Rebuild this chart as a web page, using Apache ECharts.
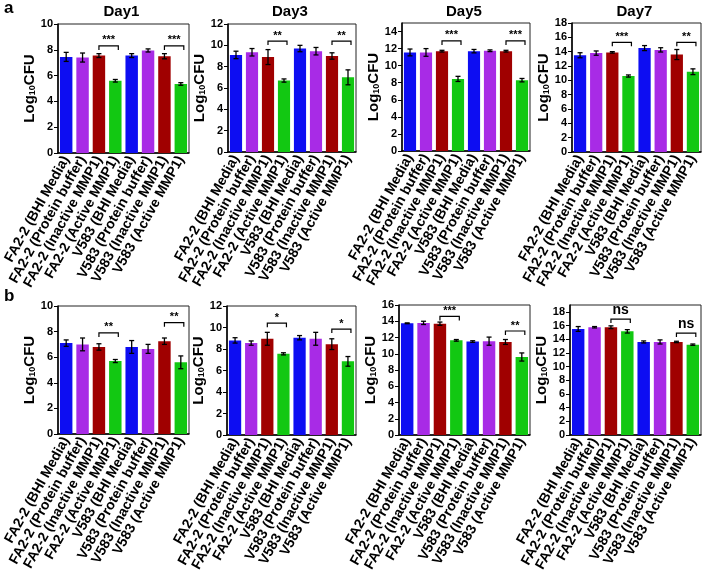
<!DOCTYPE html>
<html><head><meta charset="utf-8">
<script src="https://cdn.jsdelivr.net/npm/echarts@6/dist/echarts.min.js"></script>
<style>html,body{margin:0;padding:0;background:#fff}#c{width:705px;height:576px}</style>
</head><body><div id="c"></div>
<script>
const categories = ['FA2-2 (BHI Media)','FA2-2 (Protein buffer)','FA2-2 (Inactive MMP1)','FA2-2 (Active MMP1)','V583 (BHI Media)','V583 (Protein buffer)','V583 (Inactive MMP1)','V583 (Active MMP1)'];
const dayTitles = ['Day1','Day3','Day5','Day7'];
const rowLetters = ['a','b'];

// Row a
const a_day1_mean = [7.45, 7.4, 7.55, 5.6, 7.55, 7.95, 7.5, 5.35];
const a_day1_err  = [0.35, 0.35, 0.15, 0.1, 0.15, 0.12, 0.2, 0.1];
const a_day1_sig  = [[2, 3, 8.3, '***'], [6, 7, 8.3, '***']];
const a_day3_mean = [9.1, 9.35, 8.9, 6.7, 9.7, 9.45, 9.0, 7.0];
const a_day3_err  = [0.35, 0.35, 0.7, 0.15, 0.3, 0.35, 0.3, 0.7];
const a_day3_sig  = [[2, 3, 10.4, '**'], [6, 7, 10.4, '**']];
const a_day5_mean = [11.55, 11.55, 11.7, 8.45, 11.7, 11.75, 11.7, 8.3];
const a_day5_err  = [0.4, 0.45, 0.1, 0.3, 0.2, 0.1, 0.1, 0.2];
const a_day5_sig  = [[2, 3, 12.9, '***'], [6, 7, 12.9, '***']];
const a_day7_mean = [13.5, 13.8, 13.9, 10.6, 14.5, 14.25, 13.6, 11.2];
const a_day7_err  = [0.35, 0.3, 0.1, 0.15, 0.35, 0.3, 0.7, 0.4];
const a_day7_sig  = [[2, 3, 15.3, '***'], [6, 7, 15.3, '**']];
// Row b
const b_day1_mean = [7.1, 7.0, 6.8, 5.7, 6.8, 6.65, 7.25, 5.6];
const b_day1_err  = [0.25, 0.5, 0.25, 0.12, 0.5, 0.35, 0.25, 0.5];
const b_day1_sig  = [[2, 3, 7.9, '**'], [6, 7, 8.7, '**']];
const b_day3_mean = [8.8, 8.55, 8.95, 7.55, 9.05, 8.95, 8.45, 6.85];
const b_day3_err  = [0.25, 0.2, 0.6, 0.1, 0.2, 0.6, 0.5, 0.45];
const b_day3_sig  = [[2, 3, 10.4, '*'], [6, 7, 9.85, '*']];
const b_day5_mean = [13.75, 13.8, 13.7, 11.65, 11.5, 11.55, 11.45, 9.6];
const b_day5_err  = [0.05, 0.2, 0.2, 0.1, 0.1, 0.5, 0.3, 0.5];
const b_day5_sig  = [[2, 3, 14.6, '***'], [6, 7, 12.8, '**']];
const b_day7_mean = [15.5, 15.75, 15.75, 15.15, 13.6, 13.6, 13.6, 13.2];
const b_day7_err  = [0.35, 0.1, 0.2, 0.25, 0.15, 0.3, 0.1, 0.1];
const b_day7_sig  = [[2, 3, 16.95, 'ns'], [6, 7, 14.9, 'ns']];

const yMax = [10, 12, 15, 18, 10, 12, 16, 19];
const yInterval = 2;

const barColors = ['#0d0df2', '#a82be6', '#a00000', '#12c812'];

const panels = [
  [a_day1_mean, a_day1_err, a_day1_sig], [a_day3_mean, a_day3_err, a_day3_sig],
  [a_day5_mean, a_day5_err, a_day5_sig], [a_day7_mean, a_day7_err, a_day7_sig],
  [b_day1_mean, b_day1_err, b_day1_sig], [b_day3_mean, b_day3_err, b_day3_sig],
  [b_day5_mean, b_day5_err, b_day5_sig], [b_day7_mean, b_day7_err, b_day7_sig]
];

// layout
const gridBoxes = [
  {left: 58, top: 24, width: 131, height: 129},
  {left: 228, top: 24, width: 128, height: 128},
  {left: 402, top: 23, width: 128, height: 128},
  {left: 572, top: 23, width: 129, height: 129},
  {left: 58, top: 306, width: 131, height: 128},
  {left: 227, top: 306, width: 129, height: 129},
  {left: 399, top: 305, width: 131, height: 130},
  {left: 570, top: 305, width: 131, height: 130}
];

const FONT = 'Liberation Sans, Arial, sans-serif';
const grids = [], xAxes = [], yAxes = [], series = [], graphics = [];

panels.forEach((p, k) => {
  const [mean, err, sig] = p;
  const g = gridBoxes[k];
  grids.push({left: g.left, top: g.top, width: g.width, height: g.height, show: true, borderColor: '#222', borderWidth: 1, backgroundColor: 'transparent'});
  xAxes.push({
    type: 'category', gridIndex: k, data: categories,
    axisLine: {lineStyle: {color: '#000', width: 1.5}},
    axisTick: {alignWithLabel: true, length: 3, lineStyle: {color: '#000'}},
    axisLabel: {interval: 0, rotate: 61, fontSize: 14, fontWeight: 'bold', color: '#000', fontFamily: FONT, margin: 4}
  });
  yAxes.push({
    type: 'value', gridIndex: k, min: 0, max: yMax[k], interval: yInterval,
    name: '{a|Log}{b|10}{a|CFU}', nameLocation: 'middle', nameGap: 20,
    nameTextStyle: {rich: {a: {fontSize: 15, fontWeight: 'bold', fontFamily: FONT, color: '#000'}, b: {fontSize: 9, fontWeight: 'bold', fontFamily: FONT, color: '#000', verticalAlign: 'bottom', padding: [6, 0, 0, 0]}}},
    splitLine: {show: false},
    axisLine: {show: true, lineStyle: {color: '#000', width: 1.5}},
    axisTick: {show: true, length: 4, lineStyle: {color: '#000'}},
    axisLabel: {fontSize: 11, fontWeight: 'bold', color: '#000', fontFamily: FONT, margin: 5, showMaxLabel: yMax[k] % yInterval === 0}
  });
  series.push({
    type: 'bar', xAxisIndex: k, yAxisIndex: k, barWidth: '76%',
    data: mean.map((v, i) => ({value: v, itemStyle: {color: barColors[i % 4]}})),
    silent: true, animation: false
  });
  series.push({
    type: 'custom', xAxisIndex: k, yAxisIndex: k, animation: false, silent: true, z: 5,
    data: mean.map((v, i) => [i, v, err[i]]),
    renderItem: (params, api) => {
      const i = api.value(0), m = api.value(1), e = api.value(2);
      const t = api.coord([i, m + e]), b = api.coord([i, m - e]);
      const w = 2.5, st = {stroke: '#000', lineWidth: 1.3};
      return {type: 'group', children: [
        {type: 'line', shape: {x1: t[0], y1: t[1], x2: b[0], y2: b[1]}, style: st},
        {type: 'line', shape: {x1: t[0] - w, y1: t[1], x2: t[0] + w, y2: t[1]}, style: st},
        {type: 'line', shape: {x1: b[0] - w, y1: b[1], x2: b[0] + w, y2: b[1]}, style: st}
      ]};
    }
  });
  series.push({
    type: 'custom', xAxisIndex: k, yAxisIndex: k, animation: false, silent: true, z: 6,
    data: sig.map((s, j) => [s[0], s[2], j]),
    renderItem: (params, api) => {
      const s = sig[api.value(2)];
      const p1 = api.coord([s[0], s[2]]), p2 = api.coord([s[1], s[2]]);
      const x1 = p1[0], x2 = p2[0] + 3;
      const st = {stroke: '#000', lineWidth: 1.2, fill: null};
      const isNs = s[3] === 'ns';
      return {type: 'group', children: [
        {type: 'polyline', shape: {points: [[x1, p1[1] + 4], [x1, p1[1]], [x2, p2[1]], [x2, p2[1] + 4]]}, style: st},
        {type: 'text', style: {text: s[3], x: (x1 + x2) / 2, y: p1[1] - (isNs ? 2 : 0), textAlign: 'center', textVerticalAlign: 'bottom', font: (isNs ? 'bold 14px ' : 'bold 11px ') + FONT, fill: '#000'}}
      ]};
    }
  });
  if (k < 4) {
    graphics.push({type: 'text', left: g.left + g.width / 2 - 20, top: 4, style: {text: dayTitles[k], font: 'bold 15px ' + FONT, fill: '#000'}});
  }
});
graphics.push({type: 'text', left: 4, top: 0, style: {text: rowLetters[0], font: 'bold 17px ' + FONT, fill: '#000'}});
graphics.push({type: 'text', left: 4, top: 288, style: {text: rowLetters[1], font: 'bold 17px ' + FONT, fill: '#000'}});

const chart = echarts.init(document.getElementById('c'), null, {renderer: 'canvas'});
chart.setOption({animation: false, grid: grids, xAxis: xAxes, yAxis: yAxes, series: series, graphic: graphics});
</script></body></html>
